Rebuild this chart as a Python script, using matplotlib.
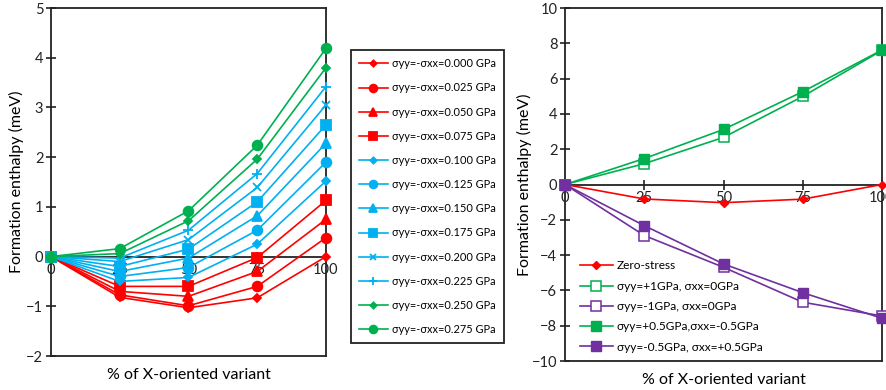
import numpy as np
import matplotlib
matplotlib.use("Agg")
import matplotlib.pyplot as plt

plt.rcParams['font.family'] = ['Lato', 'DejaVu Sans']

# x positions (% of X-oriented variant)
x = [0, 25, 50, 75, 100]

# left panel: sigma_yy = -sigma_xx series
stress = ["0.000", "0.025", "0.050", "0.075", "0.100", "0.125",
          "0.150", "0.175", "0.200", "0.225", "0.250", "0.275"]
H_left = [
    [0, -0.82, -1.03, -0.83, 0.00],
    [0, -0.77, -0.99, -0.60, 0.38],
    [0, -0.70, -0.80, -0.30, 0.75],
    [0, -0.60, -0.60, -0.02, 1.13],
    [0, -0.50, -0.42, 0.25, 1.52],
    [0, -0.40, -0.22, 0.53, 1.90],
    [0, -0.30, -0.03, 0.82, 2.28],
    [0, -0.20, 0.15, 1.10, 2.65],
    [0, -0.10, 0.34, 1.39, 3.05],
    [0, -0.03, 0.53, 1.67, 3.42],
    [0, 0.06, 0.72, 1.96, 3.80],
    [0, 0.16, 0.92, 2.24, 4.19],
]

# right panel
labels_right = ["Zero-stress",
                "σyy=+1GPa, σxx=0GPa",
                "σyy=-1GPa, σxx=0GPa",
                "σyy=+0.5GPa,σxx=-0.5GPa",
                "σyy=-0.5GPa, σxx=+0.5GPa"]
zero_stress = [0, -0.82, -1.03, -0.83, 0.0]
yy_plus1 = [0, 1.18, 2.67, 4.99, 7.6]
yy_minus1 = [0, -2.89, -4.69, -6.67, -7.45]
yy_p05_xx_m05 = [0, 1.47, 3.12, 5.26, 7.62]
yy_m05_xx_p05 = [0, -2.33, -4.5, -6.13, -7.58]

red = '#FF0000'
blue = '#00B0F0'
green = '#00B050'
purple = '#7030A0'

colors_left = [red] * 4 + [blue] * 6 + [green] * 2
markers_left = ['D', 'o', '^', 's', 'D', 'o', '^', 's', 'x', '+', 'D', 'o']
msizes = [4, 7, 7, 7, 4, 7, 7, 7, 6, 7, 4, 7]

W, H = 886, 390
fig = plt.figure(figsize=(W / 100, H / 100), dpi=100)


def frame(ax, ymin, ymax, step, label_x):
    ax.set_xlim(0, 100)
    ax.set_ylim(ymin, ymax)
    ax.set_xticks(x)
    ax.set_yticks(np.arange(ymin, ymax + step / 2, step))
    ax.spines['bottom'].set_position(('data', 0))
    for s in ax.spines.values():
        s.set_linewidth(1.3)
        s.set_color('#222222')
    ax.spines['bottom'].set_zorder(1)
    ax.plot([0, 1], [0, 0], transform=ax.transAxes, color='#222222',
            lw=1.3, clip_on=False)
    ax.tick_params(direction='inout', length=7, width=1.2, labelsize=10.5,
                   colors='#222222', pad=2)
    ax.tick_params(axis='x', pad=1)
    ax.set_ylabel('Formation enthalpy (meV)', fontsize=11.5)
    ax.yaxis.set_label_coords(label_x, 0.5)
    ax.set_xlabel('% of X-oriented variant', fontsize=11.5)
    ax.xaxis.set_label_coords(0.5, -0.035)


# left panel
ax1 = fig.add_axes([51 / W, 1 - 356 / H, (326 - 51) / W, (356 - 8) / H])
for i in range(len(stress)):
    ax1.plot(x, H_left[i], color=colors_left[i], marker=markers_left[i],
             ms=msizes[i], lw=1.2, mew=1.3, clip_on=False, zorder=3,
             label="σyy=-σxx=" + stress[i] + " GPa")
frame(ax1, -2, 5, 1, -0.1)
leg1 = fig.legend(loc='upper left', bbox_to_anchor=(351 / W, 1 - 50 / H),
                  borderaxespad=0, fontsize=7.9, frameon=True, fancybox=False,
                  framealpha=1, edgecolor='#222222', handlelength=2.6,
                  labelspacing=1.2, borderpad=0.75, handletextpad=0.35,
                  markerscale=0.8)
leg1.get_frame().set_linewidth(1.3)

# right panel
ax2 = fig.add_axes([565 / W, 1 - 361 / H, (882 - 565) / W, (361 - 8) / H])
ax2.plot(x, zero_stress, color=red, marker='D', ms=4, lw=1.2,
         clip_on=False, zorder=3, label=labels_right[0])
ax2.plot(x, yy_plus1, color=green, marker='s', ms=7, mfc='white', mew=1.1,
         lw=1.2, clip_on=False, zorder=3, label=labels_right[1])
ax2.plot(x, yy_minus1, color=purple, marker='s', ms=7, mfc='white', mew=1.1,
         lw=1.2, clip_on=False, zorder=3, label=labels_right[2])
ax2.plot(x, yy_p05_xx_m05, color=green, marker='s', ms=7, lw=1.2,
         clip_on=False, zorder=3, label=labels_right[3])
ax2.plot(x, yy_m05_xx_p05, color=purple, marker='s', ms=7, lw=1.2,
         clip_on=False, zorder=3, label=labels_right[4])
frame(ax2, -10, 10, 2, -0.105)
ax2.legend(loc='lower left', bbox_to_anchor=(0.02, 0.0), fontsize=8.6,
           frameon=False, handlelength=2.8, labelspacing=0.78,
           handletextpad=0.3, borderaxespad=0.3)

fig.savefig('out.png', dpi=100)
